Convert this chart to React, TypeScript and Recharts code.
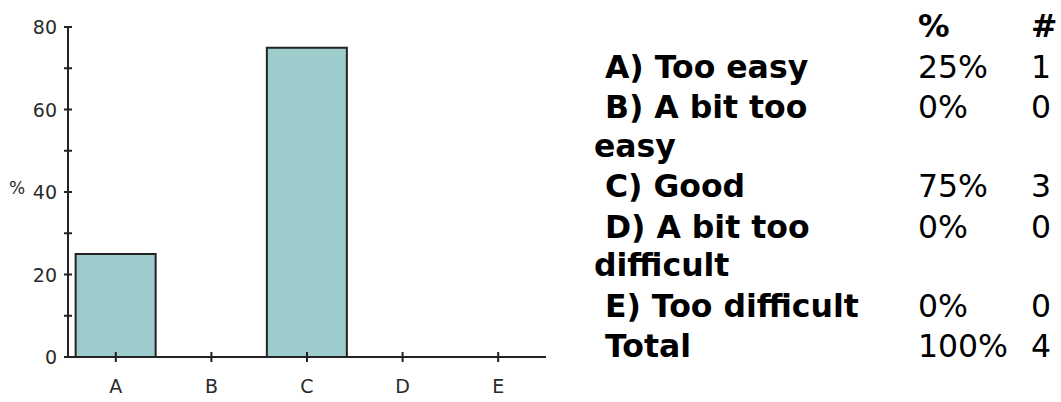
import { BarChart, Bar, XAxis, YAxis } from 'recharts'

// survey answers
const categories = ['A', 'B', 'C', 'D', 'E']
const percents = [25, 0, 75, 0, 0]
const yTicks = [0, 10, 20, 30, 40, 50, 60, 70, 80]

const answerLabels = ['A) Too easy', 'B) A bit too easy', 'C) Good', 'D) A bit too difficult', 'E) Too difficult']
const answerCounts = [1, 0, 3, 0, 0]
const totalLabel = 'Total'

const AXIS = '#222'
const TEXT = '#2a2a2a'
const AXIS_FONT = '"DejaVu Sans", Verdana, sans-serif'

const chartData = categories.map((c, i) => ({ name: c, value: percents[i] }))

function XTick(props: any) {
  const { x, y, payload } = props
  return (
    <g>
      <line x1={x} y1={y - 5} x2={x} y2={y + 5} stroke={AXIS} strokeWidth={2} />
      <text x={x} y={y + 36} textAnchor="middle" fill={TEXT} fontSize={19} fontFamily={AXIS_FONT}>
        {payload.value}
      </text>
    </g>
  )
}

function YTick(props: any) {
  const { x, y, payload } = props
  return (
    <g>
      <line x1={x - 4} y1={y} x2={x + 4} y2={y} stroke={AXIS} strokeWidth={2} />
      {payload.value % 20 === 0 && (
        <text x={x - 11} y={y + 7} textAnchor="end" fill={TEXT} fontSize={19} fontFamily={AXIS_FONT}>
          {payload.value}
        </text>
      )}
    </g>
  )
}

export default function App() {
  const total = answerCounts.reduce((a, b) => a + b, 0)
  const cell = { padding: '1px 0', verticalAlign: 'top' as const }

  return (
    <div style={{ position: 'absolute', left: 0, top: 0, width: 1061, height: 402, background: 'white' }}>
      <div style={{ position: 'absolute', left: 0, top: 0 }}>
        <BarChart width={560} height={402} data={chartData} margin={{ top: 27, right: 14, bottom: 0, left: 0 }} barCategoryGap="8%">
          <XAxis
            dataKey="name"
            height={45}
            tickSize={0}
            tickMargin={0}
            tick={<XTick />}
            axisLine={{ stroke: AXIS, strokeWidth: 2 }}
            interval={0}
          />
          <YAxis
            width={68}
            domain={[0, 80]}
            ticks={yTicks}
            tickSize={0}
            tickMargin={0}
            tick={<YTick />}
            axisLine={{ stroke: AXIS, strokeWidth: 2 }}
            interval={0}
            label={{ value: '%', position: 'insideLeft', offset: 9, dy: -4, fill: TEXT, fontSize: 17, fontFamily: AXIS_FONT }}
          />
          <Bar dataKey="value" fill="#9dcccc" stroke={AXIS} strokeWidth={2} isAnimationActive={false} />
        </BarChart>
      </div>

      <table
        style={{
          position: 'absolute',
          left: 594,
          top: 6,
          width: 470,
          borderCollapse: 'collapse',
          tableLayout: 'fixed',
          fontFamily: '"DejaVu Sans", sans-serif',
          fontSize: 31.5,
          lineHeight: '38.5px',
          color: '#000',
        }}
      >
        <colgroup>
          <col style={{ width: 324 }} />
          <col style={{ width: 113 }} />
          <col style={{ width: 33 }} />
        </colgroup>
        <tbody>
          <tr>
            <td style={cell}></td>
            <td style={{ ...cell, fontWeight: 'bold' }}>%</td>
            <td style={{ ...cell, fontWeight: 'bold' }}>#</td>
          </tr>
          {answerLabels.map((label, i) => (
            <tr key={label}>
              <td style={{ ...cell, fontWeight: 'bold', paddingRight: 30 }}>{'\u00a0' + label}</td>
              <td style={cell}>{Math.round((answerCounts[i] / total) * 100)}%</td>
              <td style={cell}>{answerCounts[i]}</td>
            </tr>
          ))}
          <tr>
            <td style={{ ...cell, fontWeight: 'bold' }}>{'\u00a0' + totalLabel}</td>
            <td style={cell}>100%</td>
            <td style={cell}>{total}</td>
          </tr>
        </tbody>
      </table>
    </div>
  )
}
